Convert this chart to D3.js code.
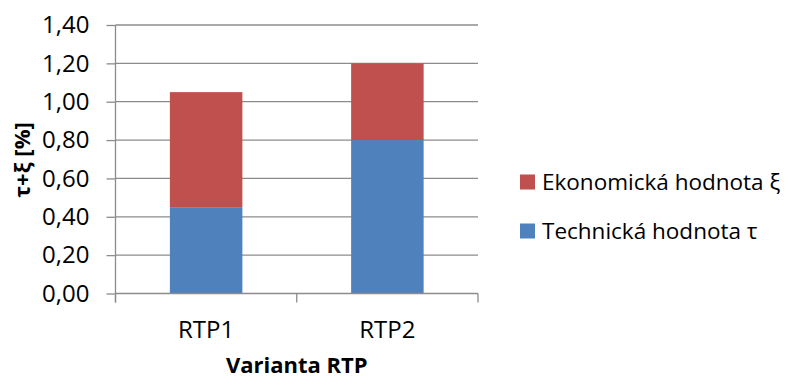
<!DOCTYPE html>
<html>
<head>
<meta charset="utf-8">
<script src="https://cdn.jsdelivr.net/npm/d3@7"></script>
<style>
  body { margin: 0; background: #fff; }
  text { font-family: "Open Sans", sans-serif; fill: #000; }
</style>
</head>
<body>
<div id="chart"><svg></svg></div>
<script>
// data
var categories = ["RTP1", "RTP2"];
var technicka = [0.45, 0.80];   // Technická hodnota τ
var ekonomicka = [0.60, 0.40];  // Ekonomická hodnota ξ
var yTicks = [0, 0.2, 0.4, 0.6, 0.8, 1.0, 1.2, 1.4];
var seriesNames = ["Technická hodnota τ", "Ekonomická hodnota ξ"];
var colors = ["#4F81BD", "#C0504D"];

var W = 789, H = 379;
var margin = {top: 25, right: 311, bottom: 85.5, left: 115.5},
    width = W - margin.left - margin.right,
    height = H - margin.top - margin.bottom;

var svg = d3.select("#chart").select("svg")
    .attr("width", W)
    .attr("height", H)
    .append("g")
    .attr("transform", "translate(" + margin.left + "," + margin.top + ")");

var x = d3.scaleBand()
    .domain(categories)
    .range([0, width])
    .paddingInner(0.6)
    .paddingOuter(0.3);
var y = d3.scaleLinear()
    .domain([0, 1.4])
    .range([height, 0]);

var fmt = function (d) { return d3.format(".2f")(d).replace(".", ","); };

// gridlines
svg.append("g")
    .selectAll("line")
    .data(yTicks.slice(1))
    .enter().append("line")
    .attr("x1", 0).attr("x2", width)
    .attr("y1", function (d) { return y(d); })
    .attr("y2", function (d) { return y(d); })
    .attr("stroke", "#8c8c8c")
    .attr("stroke-width", 1.3);

// stacked bars
var table = categories.map(function (c, i) {
    return {cat: c, tech: technicka[i], eko: ekonomicka[i]};
});
var stack = d3.stack().keys(["tech", "eko"])(table);

svg.selectAll(".layer")
    .data(stack)
    .enter().append("g")
    .attr("fill", function (d, i) { return colors[i]; })
    .selectAll("rect")
    .data(function (d) { return d; })
    .enter().append("rect")
    .attr("x", function (d) { return x(d.data.cat); })
    .attr("width", x.bandwidth())
    .attr("y", function (d) { return y(d[1]); })
    .attr("height", function (d) { return y(d[0]) - y(d[1]); });

// y axis
var yAxis = svg.append("g")
    .call(d3.axisLeft(y).tickValues(yTicks).tickFormat(fmt).tickSize(9).tickPadding(17));
yAxis.selectAll("line, path").attr("stroke", "#8c8c8c").attr("stroke-width", 1.3);
yAxis.select(".domain").attr("d", "M0," + (height + 9) + "V0");
yAxis.selectAll("text").style("font-size", "24px").style("font-family", "Open Sans").attr("fill", "#000");

// x axis with ticks between categories
var xb = svg.append("g").attr("transform", "translate(0," + height + ")");
xb.append("line").attr("x1", 0).attr("x2", width)
    .attr("stroke", "#8c8c8c").attr("stroke-width", 1.3);
xb.selectAll(".xt")
    .data([0, width / 2, width])
    .enter().append("line")
    .attr("x1", function (d) { return d; }).attr("x2", function (d) { return d; })
    .attr("y1", 0).attr("y2", 9)
    .attr("stroke", "#8c8c8c").attr("stroke-width", 1.3);
xb.selectAll(".xl")
    .data(categories)
    .enter().append("text")
    .attr("x", function (d) { return x(d) + x.bandwidth() / 2; })
    .attr("y", 36)
    .attr("dy", "0.35em")
    .attr("text-anchor", "middle")
    .style("font-size", "24px")
    .text(function (d) { return d; });

// axis titles
svg.append("text")
    .attr("x", width / 2).attr("y", height + 72)
    .attr("dy", "0.35em")
    .attr("text-anchor", "middle")
    .style("font-size", "22px").style("font-weight", "bold")
    .text("Varianta RTP");

svg.append("text")
    .attr("transform", "translate(" + (22 - margin.left) + "," + (160 - margin.top) + ") rotate(-90)")
    .attr("dy", "0.35em")
    .attr("text-anchor", "middle")
    .style("font-size", "22px").style("font-weight", "bold")
    .text("τ+ξ [%]");

// legend
var legend = d3.select("#chart svg").append("g");
var legendItems = [
    {name: seriesNames[1], color: colors[1], y: 182},
    {name: seriesNames[0], color: colors[0], y: 231}
];
var li = legend.selectAll("g").data(legendItems).enter().append("g")
    .attr("transform", function (d) { return "translate(520," + d.y + ")"; });
li.append("rect").attr("x", 0).attr("y", -7.5).attr("width", 15).attr("height", 15)
    .attr("fill", function (d) { return d.color; });
li.append("text").attr("x", 22).attr("dy", "0.35em")
    .style("font-size", "22.5px")
    .text(function (d) { return d.name; });
</script>
</body>
</html>
